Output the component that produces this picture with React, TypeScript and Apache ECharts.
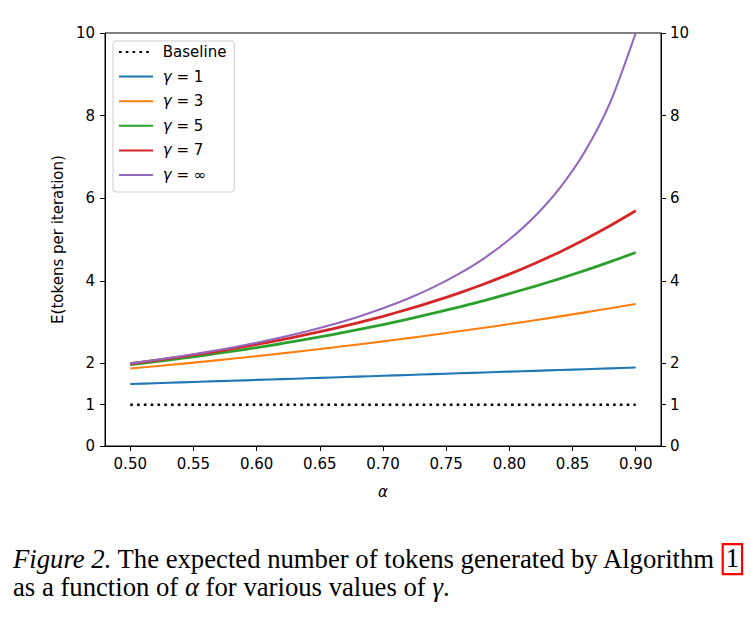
import React, { useEffect, useRef } from "react";
import * as echarts from "echarts";

// acceptance rate α on the x axis
const alpha = [0.5, 0.52, 0.54, 0.56, 0.58, 0.6, 0.62, 0.64, 0.66, 0.68, 0.7, 0.72, 0.74, 0.76, 0.78, 0.8, 0.82, 0.84, 0.86, 0.88, 0.9];

// expected tokens per iteration
const baseline = [1, 1, 1, 1, 1, 1, 1, 1, 1, 1, 1, 1, 1, 1, 1, 1, 1, 1, 1, 1, 1];
const gamma1 = [1.5, 1.52, 1.54, 1.56, 1.58, 1.6, 1.62, 1.64, 1.66, 1.68, 1.7, 1.72, 1.74, 1.76, 1.78, 1.8, 1.82, 1.84, 1.86, 1.88, 1.9];
const gamma3 = [1.875, 1.931, 1.989, 2.049, 2.112, 2.176, 2.243, 2.312, 2.383, 2.457, 2.533, 2.612, 2.693, 2.777, 2.863, 2.952, 3.044, 3.138, 3.236, 3.336, 3.439];
const gamma5 = [1.969, 2.042, 2.12, 2.203, 2.29, 2.383, 2.482, 2.587, 2.698, 2.816, 2.941, 3.074, 3.215, 3.364, 3.522, 3.689, 3.867, 4.054, 4.253, 4.463, 4.686];
const gamma7 = [1.992, 2.072, 2.158, 2.251, 2.351, 2.458, 2.574, 2.7, 2.835, 2.982, 3.141, 3.314, 3.501, 3.703, 3.923, 4.161, 4.42, 4.7, 5.006, 5.337, 5.695];
const gammaInf = [2.0, 2.083, 2.174, 2.273, 2.381, 2.5, 2.632, 2.778, 2.941, 3.125, 3.333, 3.571, 3.846, 4.167, 4.545, 5.0, 5.556, 6.25, 7.143, 8.333, 10.0];

const xTicks = [0.5, 0.55, 0.6, 0.65, 0.7, 0.75, 0.8, 0.85, 0.9];
const yTicks = [0, 1, 2, 4, 6, 8, 10];

const seriesNames = ["Baseline", "γ = 1", "γ = 3", "γ = 5", "γ = 7", "γ = ∞"];
const seriesValues = [baseline, gamma1, gamma3, gamma5, gamma7, gammaInf];
const seriesColors = ["#000000", "#1f77b4", "#ff7f0e", "#2ca02c", "#d62728", "#9467bd"];
const seriesWidths = [2.6, 2.1, 2.1, 2.8, 2.8, 2.1];

const FONT = "DejaVu Sans";
const SERIF = "Liberation Serif";
const FS = 15;
const CAP = 26.7;

export default function App() {
  const ref = useRef<HTMLDivElement>(null);

  useEffect(() => {
    if (!ref.current) return;
    const chart = echarts.init(ref.current, null, { renderer: "svg" });

    const series = seriesNames.map((name, i) => ({
      name,
      type: "line",
      xAxisIndex: 0,
      yAxisIndex: 0,
      data: alpha.map((a, k) => [a, seriesValues[i][k]]),
      symbol: "none",
      smooth: i === 0 ? false : 0.25,
      lineStyle: {
        color: seriesColors[i],
        width: seriesWidths[i],
        type: i === 0 ? [2.6, 4.2] : "solid",
        cap: "butt",
      },
      itemStyle: { color: seriesColors[i] },
      z: 2 + i,
    }));

    const yAxisCommon = {
      type: "value",
      min: 0,
      max: 10,
      splitLine: { show: false },
      axisLine: { show: true, lineStyle: { color: "#000", width: 1 } },
      axisTick: { show: true, length: 5, customValues: yTicks, lineStyle: { color: "#000", width: 1 } },
      axisLabel: {
        customValues: yTicks,
        color: "#000",
        fontFamily: FONT,
        fontSize: FS,
      },
    };

    chart.setOption({
      animation: false,
      backgroundColor: "#fff",
      grid: {
        left: 105,
        top: 33,
        right: 90,
        bottom: 181,
        show: true,
        borderColor: "#000",
        borderWidth: 1,
        backgroundColor: "transparent",
      },
      xAxis: {
        type: "value",
        min: 0.48,
        max: 0.92,
        name: "α",
        nameLocation: "middle",
        nameGap: 38,
        nameTextStyle: { fontFamily: FONT, fontSize: FS, fontStyle: "italic", color: "#000" },
        splitLine: { show: false },
        axisLine: { show: true, onZero: false, lineStyle: { color: "#000", width: 1 } },
        axisTick: { show: true, length: 5, customValues: xTicks, lineStyle: { color: "#000", width: 1 } },
        axisLabel: {
          customValues: xTicks,
          margin: 10,
          color: "#000",
          fontFamily: FONT,
          fontSize: FS,
          formatter: (v: number) => v.toFixed(2),
        },
      },
      yAxis: [
        {
          ...yAxisCommon,
          position: "left",
          name: "E(tokens per iteration)",
          nameLocation: "middle",
          nameGap: 32,
          nameTextStyle: { fontFamily: FONT, fontSize: FS, color: "#000" },
          axisLabel: { ...yAxisCommon.axisLabel, margin: 10 },
        },
        {
          ...yAxisCommon,
          position: "right",
          axisLabel: { ...yAxisCommon.axisLabel, margin: 9 },
        },
      ],
      legend: {
        orient: "vertical",
        left: 113,
        top: 41,
        itemWidth: 34,
        itemHeight: 16,
        itemGap: 8.6,
        padding: [3, 8, 9, 5],
        backgroundColor: "rgba(255,255,255,0.8)",
        borderColor: "#cccccc",
        borderWidth: 1,
        borderRadius: 3,
        itemStyle: { opacity: 0 },
        data: seriesNames,
        formatter: (name: string) => {
          if (name === "Baseline") return " Baseline";
          return " {g|γ}" + name.slice(1);
        },
        textStyle: {
          fontFamily: FONT,
          fontSize: FS,
          color: "#000",
          lineHeight: 16,
          rich: {
            g: { fontFamily: FONT, fontSize: FS, fontStyle: "italic", color: "#000" },
          },
        },
      },
      graphic: [
        {
          type: "text",
          left: 13,
          top: 543,
          style: {
            text: "{i|Figure 2.} The expected number of tokens generated by Algorithm {b|1}",
            fontFamily: SERIF,
            fontSize: CAP,
            fill: "#000",
            rich: {
              i: { fontFamily: SERIF, fontSize: CAP, fontStyle: "italic", fill: "#000" },
              b: {
                fontFamily: SERIF,
                fontSize: CAP,
                fill: "#000",
                borderColor: "#ff0000",
                borderWidth: 2.2,
                padding: [0, 3, 3, 3],
              },
            },
          },
        },
        {
          type: "text",
          left: 13,
          top: 573,
          style: {
            text: "as a function of {i|α} for various values of {i|γ}.",
            fontFamily: SERIF,
            fontSize: CAP,
            fill: "#000",
            rich: {
              i: { fontFamily: SERIF, fontSize: CAP, fontStyle: "italic", fill: "#000" },
            },
          },
        },
      ],
      series,
    });

    return () => chart.dispose();
  }, []);

  return (
    <div
      ref={ref}
      style={{ position: "fixed", left: 0, top: 0, width: 751, height: 627, background: "#fff" }}
    />
  );
}
